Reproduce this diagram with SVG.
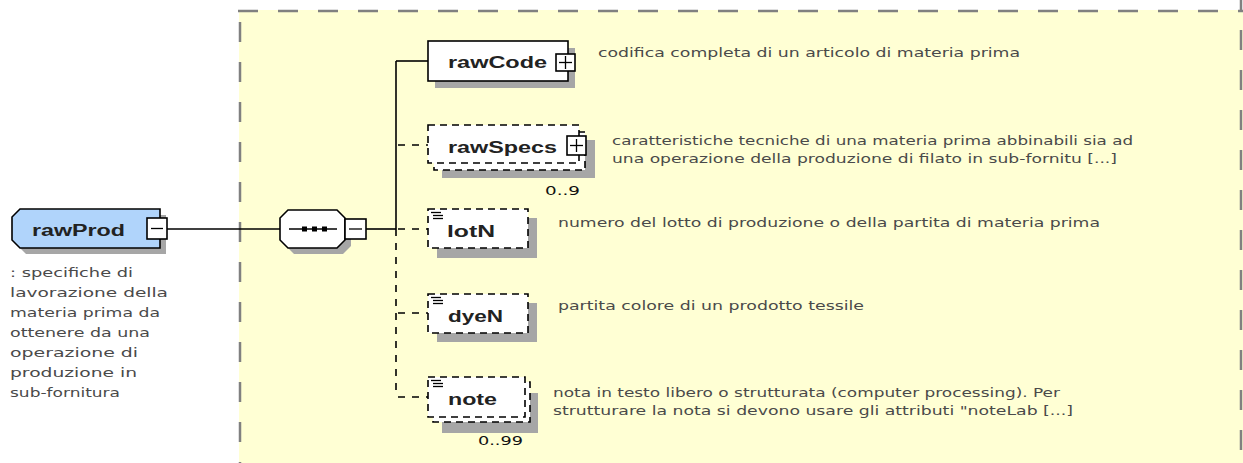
<svg xmlns="http://www.w3.org/2000/svg" width="1243" height="463" viewBox="0 0 1243 463">
<style>
.frame{fill:none;stroke:#808080;stroke-width:2.5;stroke-dasharray:20 20}
.box{fill:#ffffff;stroke:#000;stroke-width:1.6}
.dbox{fill:#ffffff;stroke:#000;stroke-width:1.6;stroke-dasharray:7 5}
.shadow{fill:#a6a6a6}
.lbl{font-family:"Liberation Sans",Arial,sans-serif;font-weight:bold;font-size:16px;fill:#222}
.desc{font-family:"DejaVu Sans","Liberation Sans",sans-serif;font-size:12.5px;fill:#4a4a4a}
.mult{font-family:"DejaVu Sans","Liberation Sans",sans-serif;font-size:13px;fill:#111}
.ln{stroke:#000;stroke-width:1.6;fill:none}
.dln{stroke:#000;stroke-width:1.6;fill:none;stroke-dasharray:7 7}
.ico{stroke:#000;stroke-width:1.3}
</style>
<rect x="239" y="10" width="1010" height="460" fill="#ffffd4"/>
<g id="frame">
<line class="frame" x1="238" y1="11" x2="1243" y2="11"/>
<line class="frame" x1="240" y1="22" x2="240" y2="463"/>
<line class="frame" x1="1241" y1="0" x2="1241" y2="463" style="stroke-dashoffset:10"/>
</g>
<g id="connectors">
<line class="ln" x1="167" y1="229" x2="282" y2="229"/>
<line class="ln" x1="366" y1="229" x2="396" y2="229"/>
<line class="ln" x1="396" y1="61" x2="396" y2="229"/>
<line class="dln" x1="396" y1="229" x2="396" y2="397"/>
<line class="ln" x1="396" y1="61" x2="428" y2="61"/>
<line class="dln" x1="398" y1="145" x2="428" y2="145"/>
<line class="dln" x1="398" y1="229" x2="428" y2="229"/>
<line class="dln" x1="398" y1="313" x2="428" y2="313"/>
<line class="dln" x1="398" y1="397" x2="428" y2="397"/>
</g>
<g id="rawProd">
<polygon class="shadow" points="26,215 166,215 166,254 26,254 18,246 18,223"/>
<polygon fill="#b0d4fb" stroke="#000" stroke-width="1.6" points="20,209 160,209 160,248 20,248 12,240 12,217"/>
<text class="lbl" x="32" y="236" textLength="93" lengthAdjust="spacingAndGlyphs">rawProd</text>
<rect class="box" x="147" y="218" width="20" height="21"/>
<line class="ico" x1="151" y1="228.5" x2="163" y2="228.5"/>
<text class="desc" x="10" y="277" textLength="123" lengthAdjust="spacingAndGlyphs">: specifiche di</text>
<text class="desc" x="10" y="297" textLength="158" lengthAdjust="spacingAndGlyphs">lavorazione della</text>
<text class="desc" x="10" y="317" textLength="150" lengthAdjust="spacingAndGlyphs">materia prima da</text>
<text class="desc" x="10" y="337" textLength="140" lengthAdjust="spacingAndGlyphs">ottenere da una</text>
<text class="desc" x="10" y="357" textLength="128" lengthAdjust="spacingAndGlyphs">operazione di</text>
<text class="desc" x="10" y="377" textLength="127" lengthAdjust="spacingAndGlyphs">produzione in</text>
<text class="desc" x="10" y="397" textLength="110" lengthAdjust="spacingAndGlyphs">sub-fornitura</text>
</g>
<g id="sequence">
<polygon class="shadow" points="294,216 343,216 351,224 351,246 343,254 294,254 286,246 286,224"/>
<polygon class="box" points="288,210 337,210 345,218 345,240 337,248 288,248 280,240 280,218"/>
<line class="ico" x1="289" y1="229" x2="337" y2="229"/>
<rect x="302" y="226.5" width="5" height="5" fill="#000"/>
<rect x="312" y="226.5" width="5" height="5" fill="#000"/>
<rect x="322" y="226.5" width="5" height="5" fill="#000"/>
<rect class="box" x="345" y="219" width="21" height="20"/>
<line class="ico" x1="349" y1="229" x2="362" y2="229"/>
</g>
<g id="rawCode">
<rect class="shadow" x="435" y="48" width="140" height="40"/>
<rect class="box" x="428" y="41" width="140" height="40"/>
<text class="lbl" x="448" y="68" textLength="99" lengthAdjust="spacingAndGlyphs">rawCode</text>
<rect class="box" x="556" y="54" width="19" height="17"/>
<line class="ico" x1="559" y1="62.5" x2="572" y2="62.5"/>
<line class="ico" x1="565.5" y1="56" x2="565.5" y2="69"/>
<text class="desc" x="598" y="57" textLength="422" lengthAdjust="spacingAndGlyphs">codifica completa di un articolo di materia prima</text>
</g>
<g id="rawSpecs">
<rect class="shadow" x="442" y="140" width="153" height="38"/>
<rect class="dbox" x="434" y="132" width="151" height="38"/>
<rect class="dbox" x="428" y="125" width="151" height="38"/>
<text class="lbl" x="448" y="153" textLength="109" lengthAdjust="spacingAndGlyphs">rawSpecs</text>
<rect class="box" x="567" y="136" width="19" height="19"/>
<line class="ico" x1="570" y1="145.5" x2="583" y2="145.5"/>
<line class="ico" x1="576.5" y1="139" x2="576.5" y2="152"/>
<text class="mult" x="545" y="195" textLength="35" lengthAdjust="spacingAndGlyphs">0..9</text>
<text class="desc" x="612" y="145" textLength="521" lengthAdjust="spacingAndGlyphs">caratteristiche tecniche di una materia prima abbinabili sia ad</text>
<text class="desc" x="612" y="163" textLength="505" lengthAdjust="spacingAndGlyphs">una operazione della produzione di filato in sub-fornitu [...]</text>
</g>
<g id="lotN">
<rect class="shadow" x="437" y="218" width="100" height="40"/>
<rect class="dbox" x="428" y="209" width="100" height="39"/>
<line class="ico" x1="431" y1="212.5" x2="441" y2="212.5"/>
<line class="ico" x1="433" y1="215.5" x2="443" y2="215.5"/>
<line class="ico" x1="433" y1="218.5" x2="443" y2="218.5"/>
<text class="lbl" x="447" y="237" textLength="48" lengthAdjust="spacingAndGlyphs">lotN</text>
<text class="desc" x="558" y="227" textLength="542" lengthAdjust="spacingAndGlyphs">numero del lotto di produzione o della partita di materia prima</text>
</g>
<g id="dyeN">
<rect class="shadow" x="437" y="303" width="100" height="39"/>
<rect class="dbox" x="428" y="294" width="100" height="39"/>
<line class="ico" x1="431" y1="297.5" x2="441" y2="297.5"/>
<line class="ico" x1="433" y1="300.5" x2="443" y2="300.5"/>
<line class="ico" x1="433" y1="303.5" x2="443" y2="303.5"/>
<text class="lbl" x="448" y="322" textLength="55" lengthAdjust="spacingAndGlyphs">dyeN</text>
<text class="desc" x="558" y="310" textLength="306" lengthAdjust="spacingAndGlyphs">partita colore di un prodotto tessile</text>
</g>
<g id="note">
<rect class="shadow" x="442" y="393" width="96" height="40"/>
<rect class="dbox" x="433" y="382" width="97" height="40"/>
<rect class="dbox" x="428" y="377" width="97" height="40"/>
<line class="ico" x1="431" y1="380.5" x2="441" y2="380.5"/>
<line class="ico" x1="433" y1="383.5" x2="443" y2="383.5"/>
<line class="ico" x1="433" y1="386.5" x2="443" y2="386.5"/>
<text class="lbl" x="448" y="405" textLength="49" lengthAdjust="spacingAndGlyphs">note</text>
<text class="mult" x="478" y="445" textLength="45" lengthAdjust="spacingAndGlyphs">0..99</text>
<text class="desc" x="553" y="397" textLength="507" lengthAdjust="spacingAndGlyphs">nota in testo libero o strutturata (computer processing). Per</text>
<text class="desc" x="553" y="415" textLength="520" lengthAdjust="spacingAndGlyphs">strutturare la nota si devono usare gli attributi "noteLab [...]</text>
</g>
</svg>
